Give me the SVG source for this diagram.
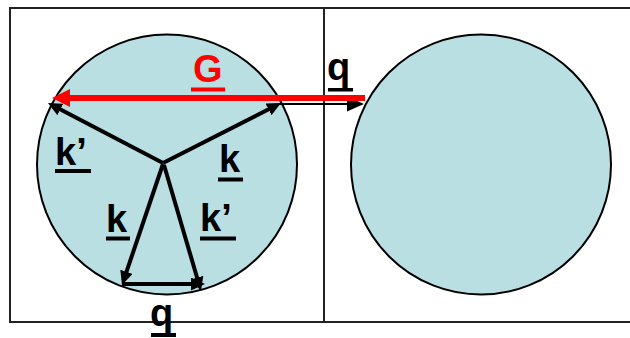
<svg xmlns="http://www.w3.org/2000/svg" width="630" height="338" viewBox="0 0 630 338">
<style>
.box{fill:#fff;stroke:#222;stroke-width:2}
.zone{fill:#b9dfe3;stroke:#000;stroke-width:2}
.vec{stroke:#000;stroke-width:4;fill:none}
.thin{stroke:#000;stroke-width:2;fill:none}
.red{stroke:#f00;stroke-width:6;fill:none}
.lbl{font-family:"Liberation Sans",Arial,sans-serif;font-weight:bold;font-size:38px;fill:#000}
.lblr{fill:#f00}
.ul{fill:#000}
.ulr{fill:#f00}
</style>
<defs>
<marker id="ah" markerUnits="userSpaceOnUse" markerWidth="15" markerHeight="14" refX="9" refY="6.5" orient="auto">
<path d="M0,0 L14,6.5 L0,13 z" fill="#000"/>
</marker>
<marker id="ahq" markerUnits="userSpaceOnUse" markerWidth="18" markerHeight="16" refX="15" refY="7.5" orient="auto">
<path d="M0,0 L17,7.5 L0,15 z" fill="#000"/>
</marker>
<marker id="ahr" markerUnits="userSpaceOnUse" markerWidth="19" markerHeight="19" refX="12" refY="9" orient="auto">
<path d="M0,0 L18,9 L0,18 z" fill="#f00"/>
</marker>
</defs>
<g id="cell-left"><rect class="box" x="10" y="8" width="314" height="314"/></g>
<g id="cell-right"><rect class="box" x="324" y="8" width="330" height="314"/></g>
<g id="zone-left"><circle class="zone" cx="167" cy="164.5" r="130"/></g>
<g id="zone-right"><circle class="zone" cx="481" cy="164.5" r="130"/></g>
<g id="connectors">
<line class="vec" x1="163" y1="163" x2="52.4" y2="105.3" marker-end="url(#ah)"/>
<line class="vec" x1="163" y1="163" x2="276.5" y2="105.3" marker-end="url(#ah)"/>
<line class="vec" x1="163" y1="164" x2="123.6" y2="280.3" marker-end="url(#ah)"/>
<line class="vec" x1="164" y1="165" x2="199.6" y2="286.2" marker-end="url(#ah)"/>
<line class="vec" x1="122" y1="284" x2="200" y2="284" marker-end="url(#ah)"/>
<line class="thin" x1="279" y1="104" x2="362" y2="104" marker-end="url(#ahq)"/>
<line class="red" x1="365" y1="98" x2="58" y2="98" marker-end="url(#ahr)"/>
</g>
<g id="label-G"><text class="lbl lblr" x="193" y="82">G</text><rect class="ulr" x="191" y="87.5" width="34" height="4"/></g>
<g id="label-q-top"><text class="lbl" x="327" y="80">q</text><rect class="ul" x="328" y="88" width="25" height="3.5"/></g>
<g id="label-k1"><text class="lbl" x="55" y="165">k’</text><rect class="ul" x="55" y="169" width="36" height="4"/></g>
<g id="label-k2"><text class="lbl" x="219" y="172">k</text><rect class="ul" x="218" y="177.5" width="25" height="4"/></g>
<g id="label-k3"><text class="lbl" x="106" y="232">k</text><rect class="ul" x="106" y="236.5" width="24" height="4"/></g>
<g id="label-k4"><text class="lbl" x="200" y="231">k’</text><rect class="ul" x="200" y="236.5" width="36" height="4"/></g>
<g id="label-q-bottom"><text class="lbl" x="150" y="326">q</text><rect class="ul" x="151" y="333" width="25" height="4"/></g>
</svg>
